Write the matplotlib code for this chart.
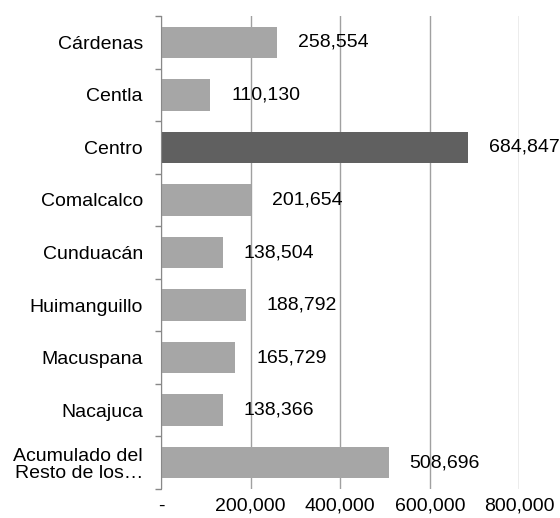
import matplotlib.pyplot as plt
from matplotlib.ticker import FixedLocator

plt.rcParams['font.family'] = ['Liberation Sans', 'DejaVu Sans']

municipios = ["Cárdenas", "Centla", "Centro", "Comalcalco", "Cunduacán",
              "Huimanguillo", "Macuspana", "Nacajuca",
              "Acumulado del\nResto de los…"]
poblacion = [258554, 110130, 684847, 201654, 138504,
             188792, 165729, 138366, 508696]
destacado = "Centro"

x_ticks = [0, 200000, 400000, 600000, 800000]
x_labels = ["-", "200,000", "400,000", "600,000", "800,000"]

fig = plt.figure(figsize=(5.6, 5.18), dpi=100)
ax = fig.add_axes([0.2875, 0.056, 0.64, 0.913])

pos = list(range(len(municipios)))
colores = ["#606060" if m == destacado else "#A6A6A6" for m in municipios]
ax.barh(pos, poblacion, height=0.6, color=colores, zorder=2)

for p, v in zip(pos, poblacion):
    ax.annotate(f"{v:,}", xy=(v, p), xytext=(15, 0), textcoords="offset points",
                ha="left", va="center", fontsize=14, color="black", zorder=3)

ax.set_xlim(0, 800000)
ax.set_ylim(len(municipios) - 0.5, -0.5)
ax.set_xticks(x_ticks)
ax.set_xticklabels(x_labels, fontsize=14)
ax.set_yticks(pos)
ax.set_yticklabels(municipios, fontsize=14, linespacing=1.0)
ax.yaxis.set_minor_locator(FixedLocator([i - 0.5 for i in range(len(municipios) + 1)]))
ax.tick_params(axis="y", which="major", length=0, pad=13)
ax.tick_params(axis="y", which="minor", length=4.5, color="#888888", width=1)
ax.tick_params(axis="x", length=0, pad=6)

ax.xaxis.grid(True, color="#A0A0A0", linewidth=1, zorder=0)
ax.set_axisbelow(True)
for s in ["top", "right", "bottom"]:
    ax.spines[s].set_visible(False)
ax.spines["left"].set_color("#888888")

fig.savefig("out.png", dpi=100)
